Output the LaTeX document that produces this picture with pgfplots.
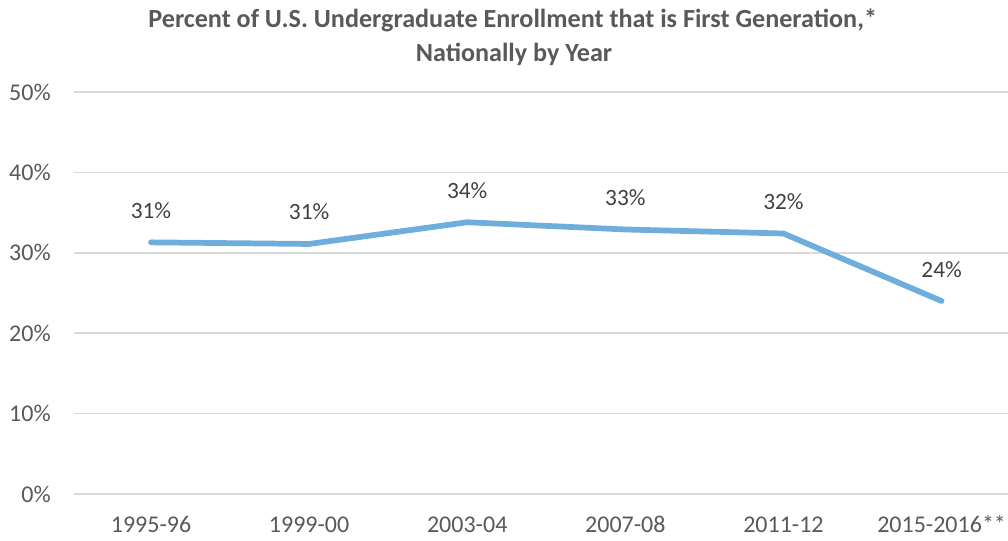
\documentclass[border=0pt]{standalone}
\usepackage{pgfplots}
\pgfplotsset{compat=1.18}
\usepackage{fontspec}
\setmainfont{Carlito}
\definecolor{txt}{HTML}{595959}
\definecolor{lbl}{HTML}{404040}
\definecolor{gridc}{HTML}{D9D9D9}
\definecolor{linec}{HTML}{6EAEDC}
\begin{document}
\begin{tikzpicture}
\begin{axis}[at={(0,0)}, anchor=south west, scale only axis,
  width=700.5pt, height=301.5pt,
  xmin=-0.487, xmax=5.42, ymin=0, ymax=50,
  ytick={0,10,...,50},
  yticklabel={\pgfmathprintnumber{\tick}\%},
  xtick={0,...,5},
  xticklabels={1995-96,1999-00,2003-04,2007-08,2011-12,2015-2016**},
  axis line style={draw=none},
  ymajorgrids, grid style={gridc, line width=1.2pt},
  major tick length=0pt,
  /pgf/number format/assume math mode=true,
  tick label style={font=\fontsize{18}{21}\selectfont, text=txt},
  yticklabel style={anchor=east, inner sep=0pt, xshift=-17.25pt},
  xticklabel style={anchor=base, inner sep=0pt, yshift=-28.5pt},
  clip=false,
  nodes near coords={\pgfmathprintnumber[fixed,precision=0]{\pgfplotspointmeta}\%},
  every node near coord/.append style={font=\fontsize{17.5}{20}\selectfont, text=lbl, anchor=base, inner sep=0pt, yshift=18pt},
]
\addplot[linec, line width=4.3pt, line cap=round, line join=round] coordinates {
  (0,31.3) (1,31.1) (2,33.8) (3,32.9) (4,32.4) (5,24.0)
};
\end{axis}
\node[anchor=base, text=txt, font=\fontsize{19.6}{22}\selectfont\bfseries, inner sep=0pt] at (329pt,349.5pt) {Percent of U.S. Undergraduate Enrollment that is First Generation,*};
\node[anchor=base, text=txt, font=\fontsize{19.6}{22}\selectfont\bfseries, inner sep=0pt] at (330pt,324.5pt) {Nationally by Year};
\pgfresetboundingbox
\path (-55.5pt,-34.5pt) rectangle (700.5pt,370.5pt);
\end{tikzpicture}
\end{document}
